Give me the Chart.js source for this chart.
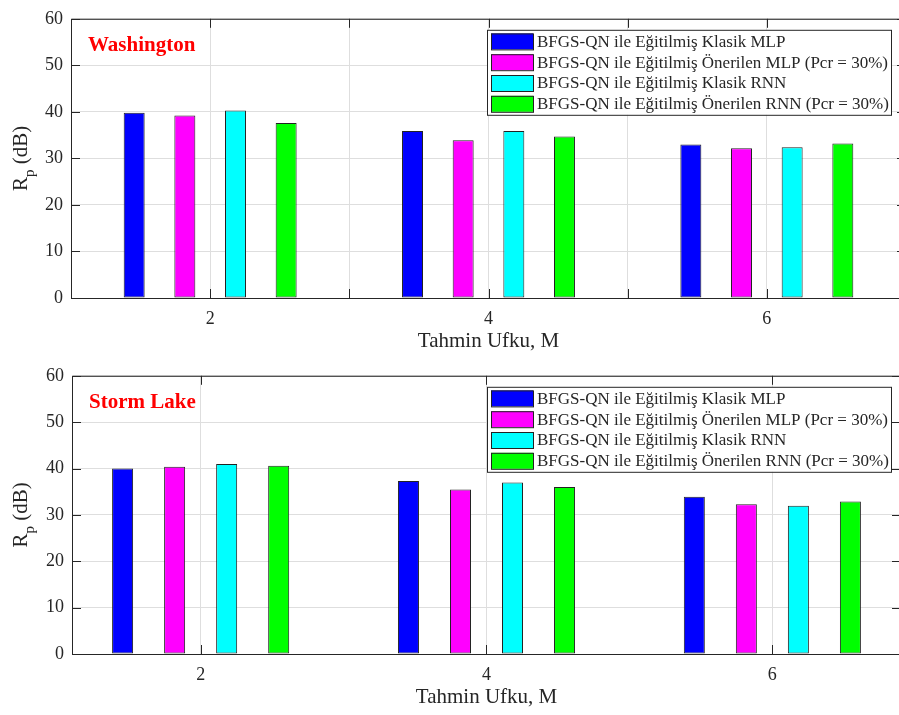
<!DOCTYPE html>
<html>
<head>
<meta charset="utf-8">
<script src="https://cdn.jsdelivr.net/npm/chart.js@4.4.1/dist/chart.umd.min.js"></script>
<style>
  html, body { margin: 0; padding: 0; background: #fff; overflow: hidden; }
  #wrap { position: relative; width: 899px; height: 715px; overflow: hidden; }
  canvas { position: absolute; left: 0; }
</style>
</head>
<body>
<div id="wrap">
  <canvas id="washingtonCanvas" width="910" height="357" style="top:0px"></canvas>
  <canvas id="stormLakeCanvas" width="910" height="358" style="top:357px"></canvas>
</div>
<script>
// data
const horizons = [2, 4, 6];
const seriesLabels = [
    'BFGS-QN ile Eğitilmiş Klasik MLP',
    'BFGS-QN ile Eğitilmiş Önerilen MLP (Pcr = 30%)',
    'BFGS-QN ile Eğitilmiş Klasik RNN',
    'BFGS-QN ile Eğitilmiş Önerilen RNN (Pcr = 30%)'
];
const seriesColors = ['#0000ff', '#ff00ff', '#00ffff', '#00ff00'];

const washingtonKlasikMlp = [39.8, 35.9, 33.0];
const washingtonOnerilenMlp = [39.2, 33.9, 32.2];
const washingtonKlasikRnn = [40.3, 35.9, 32.4];
const washingtonOnerilenRnn = [37.6, 34.7, 33.2];

const stormKlasikMlp = [40.0, 37.3, 33.9];
const stormOnerilenMlp = [40.4, 35.5, 32.3];
const stormKlasikRnn = [41.0, 37.0, 32.0];
const stormOnerilenRnn = [40.6, 36.0, 32.9];

const yTicks = [0, 10, 20, 30, 40, 50, 60];
const washingtonXTicks = [2, 3, 4, 5, 6];
const washingtonXTickLabels = ['2', '', '4', '', '6'];
const stormXTicks = [2, 4, 6];
const stormXTickLabels = ['2', '4', '6'];

const xTitle = 'Tahmin Ufku, M';
const serif = 'Liberation Serif';
const axisColor = '#262626';

const framePlugin = {
    id: 'frame',
    afterDatasetsDraw(chart) {
        const ctx = chart.ctx;
        const a = chart.chartArea;
        const x = chart.scales.x;
        const y = chart.scales.y;
        ctx.save();
        ctx.strokeStyle = axisColor;
        ctx.lineWidth = 1;
        ctx.beginPath();
        ctx.rect(a.left + 0.5, a.top + 0.5, a.right - a.left, a.bottom - a.top);
        x.ticks.forEach(t => {
            const px = Math.round(x.getPixelForValue(t.value)) + 0.5;
            ctx.moveTo(px, a.bottom); ctx.lineTo(px, a.bottom - 9);
            ctx.moveTo(px, a.top); ctx.lineTo(px, a.top + 9);
        });
        y.ticks.forEach(t => {
            const py = Math.round(y.getPixelForValue(t.value)) + 0.5;
            ctx.moveTo(a.left, py); ctx.lineTo(a.left + 9, py);
            ctx.moveTo(a.right, py); ctx.lineTo(a.right - 9, py);
        });
        ctx.stroke();
        ctx.restore();
    }
};

// legend box drawn inside the plot, top right
const boxLegendPlugin = {
    id: 'boxLegend',
    afterDraw(chart) {
        const ctx = chart.ctx;
        const a = chart.chartArea;
        const left = 487;
        const top = a.top + 11;
        const w = 404;
        const h = 85;
        ctx.save();
        ctx.fillStyle = '#fff';
        ctx.fillRect(left, top, w, h);
        ctx.strokeStyle = axisColor;
        ctx.lineWidth = 1;
        ctx.strokeRect(left + 0.5, top + 0.5, w, h);
        ctx.font = '17px "' + serif + '"';
        ctx.textBaseline = 'middle';
        chart.data.datasets.forEach((ds, i) => {
            const cy = top + 11.6 + i * 20.8;
            ctx.fillStyle = ds.backgroundColor;
            ctx.fillRect(left + 4, cy - 8, 42, 16);
            ctx.strokeStyle = '#222';
            ctx.strokeRect(left + 4.5, cy - 7.5, 42, 16);
            ctx.fillStyle = axisColor;
            ctx.fillText(ds.label, left + 50, cy + 1);
        });
        ctx.restore();
    }
};

// place name and the y title (R with subscript p)
const labelsPlugin = {
    id: 'labels',
    afterDraw(chart, args, opts) {
        const ctx = chart.ctx;
        const a = chart.chartArea;
        ctx.save();
        ctx.fillStyle = '#ff0000';
        ctx.font = 'bold 21px "' + serif + '"';
        ctx.textBaseline = 'alphabetic';
        ctx.fillText(opts.place, a.left + 17, a.top + 32);

        ctx.fillStyle = axisColor;
        const big = '21px "' + serif + '"';
        const small = '15px "' + serif + '"';
        ctx.font = big;
        const wR = ctx.measureText('R').width;
        const wRest = ctx.measureText(' (dB)').width;
        ctx.font = small;
        const wP = ctx.measureText('p').width;
        const total = wR + wP + wRest;
        const cy = (a.top + a.bottom) / 2;
        ctx.translate(27, cy + total / 2);
        ctx.rotate(-Math.PI / 2);
        ctx.font = big;
        ctx.fillText('R', 0, 0);
        ctx.font = small;
        ctx.fillText('p', wR, 7);
        ctx.font = big;
        ctx.fillText(' (dB)', wR + wP, 0);
        ctx.restore();
    }
};

function makeChart(canvas, place, series, xRange, xTicks, xTickLabels, layout) {
    return new Chart(canvas, {
        type: 'bar',
        data: {
            datasets: series.map((vals, i) => ({
                label: seriesLabels[i],
                data: horizons.map((h, j) => ({ x: h, y: vals[j] })),
                backgroundColor: seriesColors[i],
                borderColor: '#222',
                borderWidth: 1,
                borderSkipped: false,
                categoryPercentage: layout.categoryPercentage,
                barPercentage: layout.barPercentage
            }))
        },
        options: {
            responsive: false,
            animation: false,
            layout: {
                padding: { top: layout.top, right: layout.right, left: 0, bottom: 0 }
            },
            plugins: {
                legend: { display: false },
                tooltip: { enabled: false },
                labels: { place: place }
            },
            scales: {
                x: {
                    type: 'linear',
                    min: xRange[0],
                    max: xRange[1],
                    offset: false,
                    afterBuildTicks(scale) {
                        scale.ticks = xTicks.map(v => ({ value: v }));
                    },
                    afterFit(scale) {
                        scale.height = layout.xHeight;
                    },
                    ticks: {
                        autoSkip: false,
                        maxRotation: 0,
                        color: axisColor,
                        padding: 10,
                        font: { family: serif, size: 18 },
                        callback: (value, index) => xTickLabels[index]
                    },
                    grid: {
                        color: '#dedede',
                        offset: false,
                        drawTicks: false
                    },
                    border: { display: false },
                    title: {
                        display: true,
                        text: xTitle,
                        color: axisColor,
                        font: { family: serif, size: 21 },
                        padding: { top: 0, bottom: layout.titlePad }
                    }
                },
                y: {
                    min: 0,
                    max: 60,
                    afterBuildTicks(scale) {
                        scale.ticks = yTicks.map(v => ({ value: v }));
                    },
                    afterFit(scale) {
                        scale.width = layout.yWidth;
                    },
                    ticks: {
                        color: axisColor,
                        padding: 8,
                        font: { family: serif, size: 18 }
                    },
                    grid: {
                        color: '#dedede',
                        drawTicks: false
                    },
                    border: { display: false }
                }
            }
        },
        plugins: [framePlugin, boxLegendPlugin, labelsPlugin]
    });
}

const washingtonChart = makeChart(
    document.getElementById('washingtonCanvas'),
    'Washington',
    [washingtonKlasikMlp, washingtonOnerilenMlp, washingtonKlasikRnn, washingtonOnerilenRnn],
    [1, 7], washingtonXTicks, washingtonXTickLabels,
    { top: 12, right: 4, xHeight: 59, yWidth: 71, titlePad: 3,
      categoryPercentage: 1.456, barPercentage: 0.414 }
);

const stormLakeChart = makeChart(
    document.getElementById('stormLakeCanvas'),
    'Storm Lake',
    [stormKlasikMlp, stormOnerilenMlp, stormKlasikRnn, stormOnerilenRnn],
    [1.1, 6.9], stormXTicks, stormXTickLabels,
    { top: 10, right: 9, xHeight: 61, yWidth: 72, titlePad: 5,
      categoryPercentage: 0.728, barPercentage: 0.404 }
);
</script>
</body>
</html>
